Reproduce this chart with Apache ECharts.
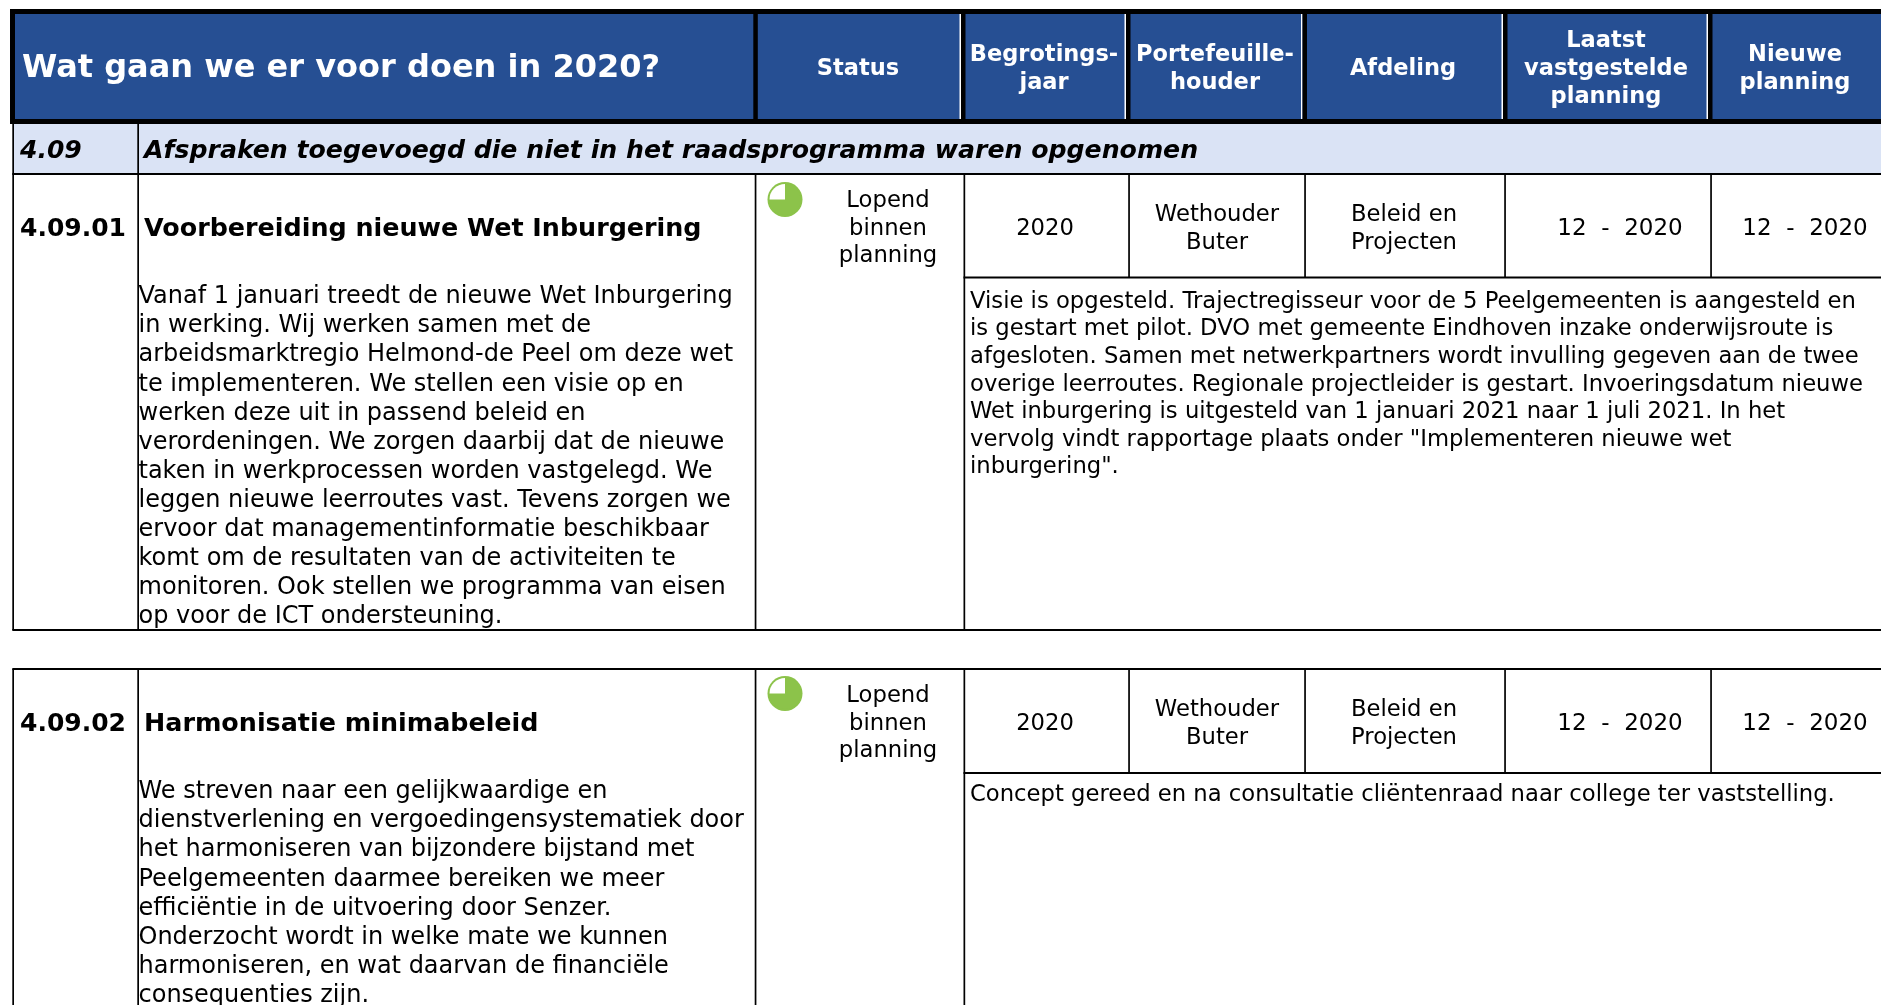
<!DOCTYPE html>
<html lang="nl">
<head>
<meta charset="UTF-8">
<title>Wat gaan we er voor doen in 2020?</title>
<script src="https://cdn.jsdelivr.net/npm/echarts@6/dist/echarts.min.js"></script>
<style>
    html, body { margin: 0; padding: 0; background: #fff; overflow: hidden; }
    #chart { width: 1881px; height: 1005px; }
</style>
</head>
<body>
<div id="chart"></div>
<script>
    // table content
    const pageTitle = 'Wat gaan we er voor doen in 2020?';
    const headerLabels = [
        ['Status'],
        ['Begrotings-', 'jaar'],
        ['Portefeuille-', 'houder'],
        ['Afdeling'],
        ['Laatst', 'vastgestelde', 'planning'],
        ['Nieuwe', 'planning']
    ];
    const sectionCode = '4.09';
    const sectionTitle = 'Afspraken toegevoegd die niet in het raadsprogramma waren opgenomen';

    const itemCodes = ['4.09.01', '4.09.02'];
    const itemTitles = ['Voorbereiding nieuwe Wet Inburgering', 'Harmonisatie minimabeleid'];
    const statusLabel = ['Lopend', 'binnen', 'planning'];
    const statusProgress = [75, 75];
    const yearValues = ['2020', '2020'];
    const holderLabel = ['Wethouder', 'Buter'];
    const departmentLabel = ['Beleid en', 'Projecten'];
    const lastPlanning = ['12  -  2020', '12  -  2020'];
    const newPlanning = ['12  -  2020', '12  -  2020'];

    const itemTexts = [
        [
            'Vanaf 1 januari treedt de nieuwe Wet Inburgering',
            'in werking. Wij werken samen met de',
            'arbeidsmarktregio Helmond-de Peel om deze wet',
            'te implementeren. We stellen een visie op en',
            'werken deze uit in passend beleid en',
            'verordeningen. We zorgen daarbij dat de nieuwe',
            'taken in werkprocessen worden vastgelegd. We',
            'leggen nieuwe leerroutes vast. Tevens zorgen we',
            'ervoor dat managementinformatie beschikbaar',
            'komt om de resultaten van de activiteiten te',
            'monitoren. Ook stellen we programma van eisen',
            'op voor de ICT ondersteuning.'
        ],
        [
            'We streven naar een gelijkwaardige en',
            'dienstverlening en vergoedingensystematiek door',
            'het harmoniseren van bijzondere bijstand met',
            'Peelgemeenten daarmee bereiken we meer',
            'efficiëntie in de uitvoering door Senzer.',
            'Onderzocht wordt in welke mate we kunnen',
            'harmoniseren, en wat daarvan de financiële',
            'consequenties zijn.'
        ]
    ];
    const itemComments = [
        [
            'Visie is opgesteld. Trajectregisseur voor de 5 Peelgemeenten is aangesteld en',
            'is gestart met pilot. DVO met gemeente Eindhoven inzake onderwijsroute is',
            'afgesloten. Samen met netwerkpartners wordt invulling gegeven aan de twee',
            'overige leerroutes. Regionale projectleider is gestart. Invoeringsdatum nieuwe',
            'Wet inburgering is uitgesteld van 1 januari 2021 naar 1 juli 2021. In het',
            'vervolg vindt rapportage plaats onder "Implementeren nieuwe wet',
            'inburgering".'
        ],
        ['Concept gereed en na consultatie cliëntenraad naar college ter vaststelling.']
    ];

    // layout, in page pixels
    const FONT = 'Verdana, "DejaVu Sans", sans-serif';
    const BLUE = '#264f93';
    const LIGHT = '#dae3f5';
    const GREEN = '#8cc34a';
    const headerCenters = [858, 1044, 1215, 1403, 1606, 1795];
    const headerRules = [753.3, 961, 1126, 1302.5, 1503, 1708];
    const cellRules = [964, 1129, 1305, 1505, 1711];
    const blocks = [
        { top: 174, rowMid: 229, cellLine: 277.5, textTop: 297, commentTop: 302, bottom: 630, pieY: 199.5 },
        { top: 669, rowMid: 724, cellLine: 773, textTop: 792, commentTop: 795, bottom: 1010, pieY: 693.5 }
    ];

    const g = [];
    function rect(x, y, w, h, fill) {
        g.push({ type: 'rect', silent: true, z: 1, shape: { x, y, width: w, height: h }, style: { fill } });
    }
    function text(str, x, y, font, fill, align) {
        g.push({
            type: 'text', silent: true, z: 5,
            style: { text: str, x, y, font: font + ' ' + FONT, fill: fill || '#000', align: align || 'left', verticalAlign: 'middle' }
        });
    }
    function stacked(lines, x, y, pitch, font, fill, align) {
        const start = y - (lines.length - 1) * pitch / 2;
        lines.forEach((l, i) => text(l, x, start + i * pitch, font, fill, align));
    }

    // header band
    rect(10, 9, 1871, 115, '#000');
    rect(15, 14, 1866, 105, BLUE);
    headerRules.forEach((x, i) => {
        if (i > 0) rect(x - 1.5, 14, 1.5, 105, '#fff');
        rect(x, 14, 4.5, 105, '#000');
    });
    text(pageTitle, 22, 69, 'bold 32px', '#fff');
    headerLabels.forEach((lines, i) => {
        stacked(lines, headerCenters[i], 69, 28, 'bold 22.5px', '#fff', 'center');
    });

    // section row
    rect(14, 124, 1867, 49, LIGHT);
    rect(12.3, 124, 1.7, 50, '#000');
    rect(137.3, 124, 1.7, 50, '#000');
    rect(12.3, 173, 1869, 2, '#000');
    text(sectionCode, 20, 151, 'italic bold 25px');
    text(sectionTitle, 144, 151, 'italic bold 25.2px');

    // item blocks
    blocks.forEach((b, i) => {
        if (i > 0) rect(12.3, b.top - 1, 1869, 2, '#000');
        const end = Math.min(b.bottom, 1005);
        rect(12.3, b.top, 1.7, end - b.top, '#000');
        rect(137.3, b.top, 1.7, end - b.top, '#000');
        rect(754.7, b.top, 1.7, end - b.top, '#000');
        rect(963.5, b.top, 1.7, end - b.top, '#000');
        if (b.bottom < 1005) rect(12.3, b.bottom - 1, 1869, 2, '#000');
        rect(963.5, b.cellLine - 1, 918, 2, '#000');
        cellRules.slice(1).forEach(x => rect(x - 0.8, b.top, 1.7, b.cellLine - b.top, '#000'));

        text(itemCodes[i], 20, b.rowMid, 'bold 25px');
        text(itemTitles[i], 144, b.rowMid, 'bold 25.4px');
        itemTexts[i].forEach((l, k) => text(l, 138.5, b.textTop + k * 29.1, '24px'));
        stacked(statusLabel, 888, b.rowMid, 27.5, '22.7px', '#000', 'center');
        text(yearValues[i], 1045, b.rowMid, '22.7px', '#000', 'center');
        stacked(holderLabel, 1217, b.rowMid, 28, '22.7px', '#000', 'center');
        stacked(departmentLabel, 1404, b.rowMid, 28, '22.7px', '#000', 'center');
        text(lastPlanning[i], 1620, b.rowMid, '23px', '#000', 'center');
        text(newPlanning[i], 1805, b.rowMid, '23px', '#000', 'center');
        itemComments[i].forEach((l, k) => text(l, 970, b.commentTop + k * 27.6, '22.7px'));

        g.push({ type: 'circle', silent: true, z: 2, shape: { cx: 785, cy: b.pieY, r: 17.5 }, style: { fill: GREEN } });
    });

    // status pies
    const pieSeries = blocks.map((b, i) => ({
        type: 'pie',
        silent: true,
        z: 10,
        center: [785, b.pieY],
        radius: [0, 15.5],
        startAngle: 90,
        clockwise: true,
        animation: false,
        label: { show: false },
        labelLine: { show: false },
        data: [
            { value: statusProgress[i], itemStyle: { color: GREEN } },
            { value: 100 - statusProgress[i], itemStyle: { color: '#fff' } }
        ]
    }));

    const chart = echarts.init(document.getElementById('chart'), null, { renderer: 'canvas' });
    chart.setOption({
        animation: false,
        backgroundColor: '#fff',
        graphic: { elements: g },
        series: pieSeries
    });
</script>
</body>
</html>
